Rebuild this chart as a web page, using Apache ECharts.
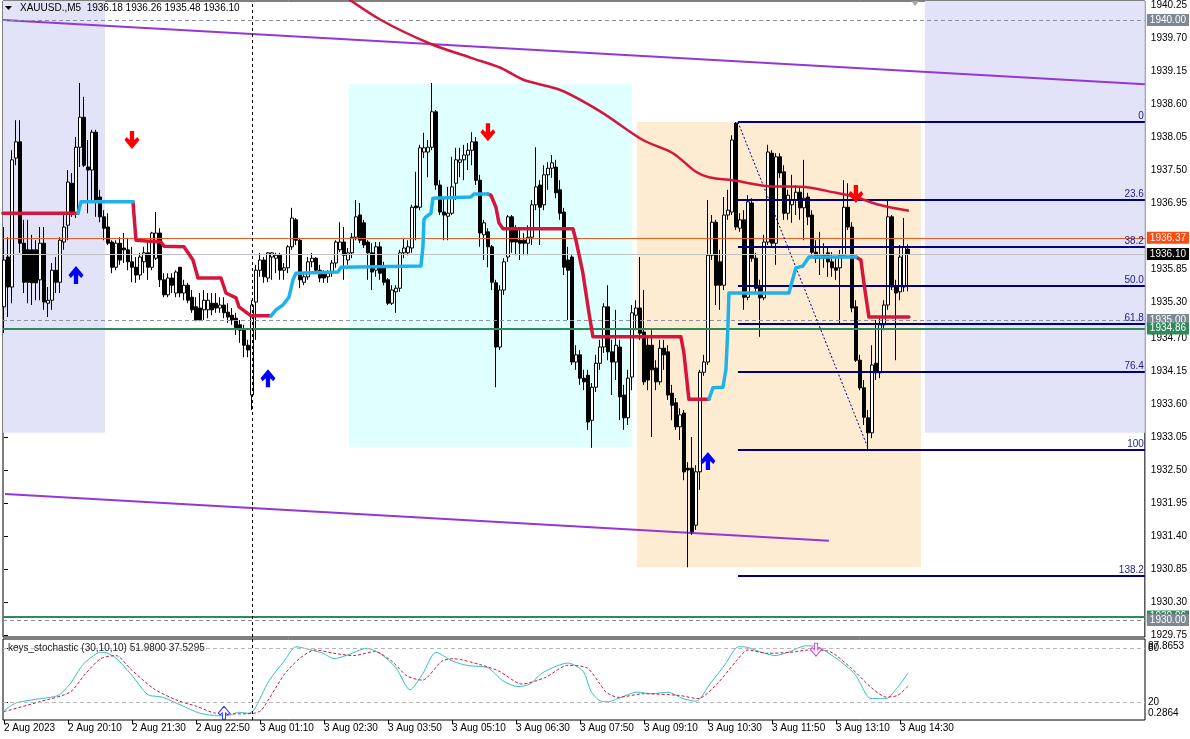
<!DOCTYPE html>
<html><head><meta charset="utf-8">
<script src="https://cdn.jsdelivr.net/npm/echarts@6/dist/echarts.min.js"></script>
<style>html,body{margin:0;padding:0;background:#fff}#c{width:1190px;height:739px}</style>
</head><body><div id="c"></div>
<script>
// ---------------- DATA ----------------
const symbolTitle = 'XAUUSD.,M5  1936.18 1936.26 1935.48 1936.10';
const stochTitle = 'keys_stochastic (30,10,10) 51.9800 37.5295';
const tickBars = [0,16,32,48,64,80,96,112,128,144,160,176,192,208,224];
const tickLabels = ['2 Aug 2023','2 Aug 20:10','2 Aug 21:30','2 Aug 22:50','3 Aug 01:10','3 Aug 02:30','3 Aug 03:50','3 Aug 05:10','3 Aug 06:30','3 Aug 07:50','3 Aug 09:10','3 Aug 10:30','3 Aug 11:50','3 Aug 13:10','3 Aug 14:30'];
const priceTicks = [1940.25,1939.70,1939.15,1938.60,1938.05,1937.50,1936.95,1935.85,1935.30,1934.70,1934.15,1933.60,1933.05,1932.50,1931.95,1931.40,1930.85,1930.30,1929.75];

const opens = [1935.22,1936.05,1935.55,1937.70,1937.97,1936.28,1936.17,1936.17,1936.17,1935.67,1936.28,1935.28,1935.33,1935.83,1935.63,1936.30,1936.58,1937.28,1936.78,1937.88,
1938.38,1937.55,1937.50,1938.13,1937.05,1936.72,1936.55,1936.30,1935.88,1936.28,1936.20,1936.17,1935.97,1935.88,1935.75,1935.97,1936.12,1935.88,1936.03,1936.45,
1935.67,1935.42,1935.70,1935.45,1935.88,1935.45,1935.58,1935.38,1935.22,1935.20,1935.17,1935.17,1935.28,1935.28,1935.20,1935.25,1935.13,1935.08,1935.03,1934.92,
1934.83,1934.58,1933.75,1935.30,1935.83,1936.00,1935.70,1936.05,1936.03,1936.08,1935.83,1935.87,1936.22,1936.67,1936.33,1935.63,1935.72,1935.97,1936.03,1935.83,
1935.78,1935.72,1935.78,1935.95,1936.17,1936.30,1936.00,1936.12,1936.38,1936.75,1936.62,1936.30,1936.12,1935.83,1936.22,1935.88,1935.67,1935.28,1935.47,1935.53,
1936.12,1936.12,1936.20,1936.90,1936.88,1937.80,1937.80,1937.88,1938.47,1937.25,1936.80,1936.73,1936.78,1937.28,1937.63,1937.67,1937.75,1937.83,1937.97,1937.33,
1936.42,1936.47,1936.22,1935.62,1934.55,1935.50,1936.05,1936.72,1936.50,1936.33,1936.33,1936.28,1936.38,1936.92,1937.25,1936.92,1937.42,1937.53,1937.55,1937.17,
1936.80,1936.00,1936.05,1934.30,1934.42,1934.03,1934.08,1933.33,1933.88,1934.28,1934.55,1935.22,1934.47,1934.30,1934.55,1933.75,1933.37,1934.05,1935.08,1935.20,
1934.80,1934.58,1934.58,1934.20,1933.97,1934.53,1934.47,1933.78,1933.62,1933.22,1933.45,1932.53,1932.53,1931.58,1932.47,1934.13,1934.30,1936.08,1936.63,1935.97,
1935.58,1936.75,1936.80,1938.28,1936.53,1936.67,1935.38,1936.95,1936.03,1935.55,1935.37,1936.30,1937.78,1936.28,1937.72,1937.47,1936.78,1936.92,1937.00,1937.13,
1936.87,1937.05,1936.75,1936.13,1936.03,1936.08,1936.12,1935.97,1935.87,1935.87,1936.08,1936.88,1936.55,1935.22,1934.33,1933.87,1933.37,1933.12,1934.28,1934.12,
1934.92,1935.25,1936.72,1935.55,1935.47,1935.55,1936.18];
const highs = [1936.55,1936.38,1937.83,1938.33,1938.33,1936.67,1936.67,1936.42,1936.33,1936.55,1936.55,1935.55,1935.95,1936.05,1936.38,1936.78,1937.50,1937.45,1938.05,1938.95,
1938.72,1938.00,1938.17,1938.17,1937.17,1936.83,1936.78,1936.33,1936.33,1936.38,1936.45,1936.37,1936.22,1936.05,1936.12,1936.22,1936.33,1936.47,1936.80,1936.53,
1935.78,1935.78,1935.78,1935.83,1935.88,1935.67,1935.62,1935.50,1935.38,1935.45,1935.50,1935.45,1935.45,1935.45,1935.38,1935.38,1935.28,1935.20,1935.12,1935.00,
1934.92,1934.67,1935.33,1935.92,1936.12,1936.05,1936.13,1936.13,1936.12,1936.12,1935.95,1936.25,1936.87,1936.70,1936.37,1935.78,1936.05,1936.12,1936.05,1935.92,
1935.83,1935.83,1936.00,1936.33,1936.63,1936.55,1936.20,1936.45,1937.00,1936.95,1936.67,1936.33,1936.28,1936.30,1936.30,1935.97,1935.70,1935.58,1935.58,1936.17,
1936.37,1936.33,1936.92,1937.47,1937.92,1938.12,1938.00,1938.95,1938.50,1937.33,1937.05,1937.22,1937.72,1937.87,1937.87,1937.92,1937.95,1938.13,1938.05,1937.42,
1936.67,1936.53,1936.25,1935.67,1935.58,1936.03,1936.75,1936.75,1936.58,1936.53,1936.45,1936.58,1937.00,1937.88,1937.33,1937.58,1937.63,1937.75,1937.67,1937.33,
1936.87,1936.22,1936.08,1934.58,1934.50,1934.17,1934.17,1933.95,1934.42,1934.67,1935.28,1935.58,1934.67,1935.17,1934.67,1933.92,1934.17,1935.25,1935.33,1936.05,
1935.50,1934.75,1934.83,1934.33,1934.67,1934.67,1934.58,1933.92,1933.70,1933.53,1933.50,1932.63,1933.05,1932.58,1934.17,1934.42,1937.00,1936.75,1936.67,1936.17,
1937.05,1937.17,1938.08,1938.30,1936.78,1936.83,1937.08,1937.03,1936.12,1935.67,1936.42,1937.92,1937.83,1937.78,1937.78,1937.58,1937.17,1937.42,1937.25,1937.22,
1937.67,1937.12,1936.83,1936.33,1936.47,1936.28,1936.20,1936.13,1936.03,1936.17,1937.33,1937.28,1936.63,1935.33,1934.42,1934.00,1933.50,1934.58,1935.00,1935.03,
1935.33,1937.00,1936.75,1935.67,1936.25,1936.70,1936.26];
const lows = [1934.78,1935.05,1935.28,1937.58,1936.12,1935.45,1935.28,1935.25,1935.33,1935.33,1935.17,1935.05,1935.17,1935.45,1935.45,1936.17,1936.33,1936.72,1936.70,1937.55,
1937.55,1936.78,1937.00,1936.72,1936.63,1936.33,1936.25,1935.78,1935.83,1935.92,1935.95,1935.83,1935.63,1935.62,1935.67,1935.78,1935.67,1935.83,1936.00,1935.55,
1935.38,1935.38,1935.45,1935.38,1935.38,1935.33,1935.28,1935.12,1934.98,1934.98,1935.00,1935.03,1935.08,1935.12,1935.12,1935.03,1934.95,1934.92,1934.75,1934.62,
1934.38,1934.38,1933.50,1934.67,1935.72,1935.62,1935.63,1935.67,1935.78,1935.67,1935.67,1935.78,1936.17,1936.25,1935.53,1935.58,1935.67,1935.88,1935.78,1935.63,
1935.62,1935.62,1935.72,1935.87,1936.13,1935.67,1935.92,1936.03,1936.33,1936.28,1936.20,1935.67,1935.50,1935.72,1935.67,1935.58,1935.25,1935.25,1935.12,1935.47,
1936.03,1936.08,1936.12,1936.33,1936.83,1937.70,1937.38,1937.83,1937.17,1936.75,1936.33,1936.33,1936.75,1937.00,1937.38,1937.33,1937.50,1937.58,1937.25,1936.22,
1936.00,1935.88,1935.50,1933.88,1934.50,1935.42,1935.97,1936.12,1936.08,1936.00,1936.08,1936.08,1936.25,1936.83,1936.25,1936.83,1937.17,1937.37,1937.03,1936.67,
1935.75,1935.00,1934.25,1934.17,1933.92,1933.83,1933.17,1932.87,1933.80,1934.17,1934.45,1934.33,1933.75,1934.00,1933.33,1933.17,1933.25,1933.83,1934.83,1934.67,
1933.92,1933.83,1933.05,1933.83,1933.92,1934.17,1933.67,1933.33,1933.17,1933.00,1932.33,1930.88,1931.42,1931.50,1932.17,1934.07,1934.25,1936.00,1935.25,1935.17,
1935.50,1936.67,1936.75,1936.50,1936.47,1935.17,1935.33,1935.97,1935.47,1934.72,1935.33,1936.25,1936.20,1935.92,1937.37,1936.67,1936.67,1936.62,1936.75,1936.67,
1936.33,1936.58,1936.05,1935.95,1935.75,1935.87,1935.72,1935.72,1935.67,1934.92,1936.03,1936.50,1935.13,1934.30,1933.83,1933.25,1932.83,1933.03,1934.00,1934.03,
1934.83,1935.17,1935.50,1934.33,1935.33,1935.47,1935.48];
const closes = [1936.00,1935.55,1937.67,1937.97,1936.28,1935.63,1935.63,1935.62,1935.62,1936.28,1935.30,1935.33,1935.83,1935.63,1936.33,1936.55,1937.30,1936.78,1937.88,1938.38,
1937.58,1937.50,1938.13,1937.00,1936.72,1936.53,1936.28,1935.88,1936.28,1936.00,1936.17,1935.97,1935.88,1935.75,1936.05,1936.12,1935.88,1936.45,1936.45,1935.67,
1935.42,1935.70,1935.58,1935.80,1935.45,1935.58,1935.33,1935.17,1935.00,1935.00,1935.33,1935.33,1935.17,1935.20,1935.25,1935.12,1935.05,1935.00,1934.87,1934.83,
1934.58,1934.50,1935.25,1935.83,1936.00,1935.72,1936.12,1936.12,1936.08,1935.83,1935.87,1936.22,1936.70,1936.33,1935.67,1935.72,1935.97,1936.03,1935.83,1935.70,
1935.70,1935.78,1935.95,1936.30,1936.30,1936.08,1936.12,1936.38,1936.72,1936.33,1936.25,1936.12,1935.80,1936.22,1935.78,1935.63,1935.28,1935.50,1935.53,1936.12,
1936.20,1936.22,1936.88,1936.87,1937.87,1937.87,1937.88,1938.47,1937.25,1936.80,1936.75,1936.78,1937.22,1937.67,1937.67,1937.75,1937.83,1937.97,1937.33,1936.45,
1936.62,1936.22,1935.63,1934.55,1935.50,1935.97,1936.72,1936.30,1936.30,1936.28,1936.28,1936.38,1936.92,1937.22,1936.88,1937.42,1937.53,1937.62,1937.12,1936.78,
1935.88,1935.83,1934.30,1934.42,1934.03,1933.97,1933.30,1933.88,1934.28,1934.55,1935.22,1934.47,1934.30,1934.58,1933.72,1933.37,1934.03,1935.12,1935.20,1934.78,
1933.97,1934.00,1934.17,1933.97,1934.53,1934.42,1933.75,1933.58,1933.22,1933.42,1932.47,1932.50,1931.47,1932.47,1934.13,1934.30,1936.08,1936.63,1935.58,1935.58,
1936.75,1936.83,1938.00,1936.55,1936.67,1935.38,1936.97,1936.03,1935.53,1935.37,1936.30,1937.80,1936.28,1937.72,1937.45,1936.78,1937.08,1937.00,1937.13,1936.87,
1937.03,1936.72,1936.13,1936.03,1936.08,1936.03,1935.97,1935.87,1935.83,1936.08,1936.88,1936.55,1935.20,1934.33,1933.87,1933.38,1933.12,1934.25,1934.12,1934.92,
1935.25,1936.72,1935.55,1935.45,1936.05,1936.22,1936.10];

// moving average (knots: [bar, price])
const maLine = [[84,1940.45],[94.25,1940.00],[106.75,1939.60],[116.75,1939.37],[124.25,1939.20],[130,1939.00],[139.25,1938.83],[149.25,1938.47],[159.75,1938.00],[167.25,1937.78],[173,1937.47],[176.25,1937.38],[183,1937.32],[191.25,1937.23],[199.75,1937.22],[208,1937.12],[213,1937.05],[218.75,1936.92],[226.25,1936.82]];
// step trailing line segments
const stepRed = [
 [[-0.25,1936.78],[18.5,1936.78]],
 [[32.25,1936.97],[33,1936.33],[39.25,1936.30],[40,1936.23],[45,1936.22],[47.25,1936.00],[48.5,1935.70],[54.25,1935.70],[55.5,1935.45],[58,1935.37],[58.75,1935.22],[61.75,1935.07],[66.75,1935.07]],
 [[121,1937.10],[121.75,1937.08],[123,1936.88],[123.75,1936.62],[124.75,1936.52],[142.25,1936.52],[143,1936.33],[144.75,1935.78],[146.25,1935.12],[147.25,1934.72],[169.25,1934.72],[170,1934.45],[171.25,1933.68],[176.25,1933.68]],
 [[213,1936.05],[214.25,1936.00],[215,1935.62],[216.25,1935.05],[226.25,1935.05]]
];
const stepCyan = [
 [[18.5,1936.78],[19.25,1936.97],[32.25,1936.97]],
 [[66.75,1935.07],[68,1935.17],[69.75,1935.25],[71.25,1935.38],[72.25,1935.67],[73,1935.78],[83.5,1935.80],[84.25,1935.88],[104.25,1935.90],[104.75,1936.22],[105,1936.67],[105.5,1936.72],[106.75,1936.78],[107.25,1937.03],[116.75,1937.05],[117.5,1937.10],[121,1937.10]],
 [[176.25,1933.68],[177.25,1933.87],[179.75,1933.88],[180.5,1934.17],[181,1934.88],[181.25,1935.45],[196.25,1935.45],[198,1935.87],[199.75,1935.90],[201.25,1936.05],[213,1936.05]]
];
// trend lines
const upperTrend = [[-0.25,1940.00],[285.25,1938.93]];
const lowerTrend = [[0.25,1932.10],[206.25,1931.32]];
const fibDiagonal = [[183.5,1938.30],[216.25,1932.83]];
const fibStartBar = 183.5;
const fibLevels = [1938.30,1937.00,1936.22,1935.57,1934.93,1934.13,1932.83,1930.73];
const fibNames = ['0','23.6','38.2','50.0','61.8','76.4','100','138.2'];
// zones: [barFrom, barTo, priceLow, priceHigh]
const zones = [[-0.25,25.25,1933.12,1940.317],[86.25,157,1932.88,1938.93],[158.25,229.25,1930.88,1938.30],[230.25,285.25,1933.12,1940.317]];
// horizontal price levels
const priceLevels = [1940.00,1936.37,1936.10,1935.00,1934.86,1930.06,1930.00];
// arrows
const upArrows = [[18,1935.75],[66,1934.03],[176,1932.65]];
const downArrows = [[32,1938.00],[121,1938.13],[213,1937.10]];
const separatorBar = 62;
// stochastic
const stochMain = [[0,10.4],[3,19.0],[8,23.0],[13.5,27.3],[16.5,40],[19.75,61.6],[23.25,74.1],[25,75.2],[28,68.7],[31.75,50.8],[36,28.1],[39.5,25.5],[44.25,16.5],[49,7.5],[53.75,4.6],[56.75,5.7],[58.6,8.6],[61,7.5],[62.5,11.1],[66.25,43.5],[70,65.2],[73,81.4],[76.75,77.8],[79.75,74.1],[82.5,68.1],[85.5,71.6],[90.75,79.5],[94,74.1],[98,57.9],[101.5,33.5],[104.6,50.8],[108,75.2],[112.25,65.2],[116,60.5],[121,57.9],[124.75,43.5],[128.5,37.1],[131.5,40],[134.25,51.4],[138,59.7],[141,63.3],[144.75,54.3],[146.75,32],[148.75,21.9],[151,20.1],[153.5,23.8],[158.25,30.9],[162,29.2],[166,30.9],[169.75,23.8],[173,20.8],[176.5,40],[180.25,61.6],[183.6,81.4],[185,81.4],[188.9,76.0],[192.75,71.6],[196.5,76.0],[200.4,82.5],[203.25,81.4],[208,68.7],[212.75,50.8],[216.75,23.8],[220.5,23.8],[223.4,36.3],[226,51.98]];
const stochSignal = [[0,9.3],[8.75,20.1],[16.5,30.9],[20.25,50.8],[24.15,68.1],[28,71.6],[31.75,56.2],[37.5,34.6],[43.25,21.9],[48,15.4],[52.9,7.5],[57.75,6.8],[62.5,7.5],[64.4,11.1],[70.1,50.8],[74,68.7],[77.75,77.8],[82.5,74.1],[87.4,71.6],[92.65,76.0],[97,65.2],[100.75,48.9],[104.6,44.3],[109.4,65.2],[112.25,68.1],[119,61.6],[123.75,54.3],[129.5,40],[135.25,47.1],[141,60.8],[145.75,57.9],[149,40],[150.5,31],[153.5,25.2],[160,29.2],[168.75,27.3],[173.5,23.8],[178.25,40],[183,65.2],[186,77.8],[190.75,74.1],[196.5,75.2],[201.25,77.8],[206,76.7],[211.75,57.9],[216.75,36.3],[220.5,25.5],[223.4,27.3],[226,37.53]];
const stochLevels = [80,20];
const stochRange = [0.2864,87.8653];
const stochUp = [[55,7.9]];
const stochDown = [[203,78.1]];

// ---------------- CHART ----------------
const XMIN=-0.25, XMAX=285.25, PMIN=1929.717, PMAX=1940.317;
const SMIN=0, SMAX=90;
const FONT='"Liberation Sans", Arial, sans-serif';
const chart = echarts.init(document.getElementById('c'));
const candleData = opens.map((o,i)=>[i,o,closes[i],lows[i],highs[i]]);
const zoneColors = ['#E2E2F8','#E0FFFF','#FDEBD2','#E2E2F8'];
const levelStyles = [
 {color:'#8a949e',type:[4,3],width:1,tag:'#7d8894',txt:'#fff'},
 {color:'#EE5A24',type:'solid',width:1,tag:'#FF4A10',txt:'#fff'},
 {color:'#C0C0C0',type:'solid',width:1,tag:'#000',txt:'#fff'},
 {color:'#8a949e',type:[4,3],width:1,tag:'#7d8894',txt:'#fff'},
 {color:'#2E8B57',type:'solid',width:2,tag:'#2E8B57',txt:'#fff'},
 {color:'#2E8B57',type:'solid',width:2,tag:'#2E8B57',txt:'#fff'},
 {color:'#8a949e',type:[4,3],width:1,tag:'#7d8894',txt:'#fff'}
];
const UP='path://M7,0 L14,9 L12,12 L9,9 L9,18 L5,18 L5,9 L2,12 L0,9 Z';
const DOWN='path://M5,0 L9,0 L9,9 L12,6 L14,9 L7,18 L0,9 L2,6 L5,9 Z';

const series = [];
series.push({type:'line',xAxisIndex:0,yAxisIndex:0,data:[],z:0,silent:true,
  markArea:{silent:true,data:zones.map((z,k)=>[{coord:[z[0],z[3]],itemStyle:{color:zoneColors[k],opacity:1}},{coord:[z[1],z[2]]}])}});
series.push({type:'line',xAxisIndex:0,yAxisIndex:0,data:[],z:3,silent:true,
  markLine:{silent:true,symbol:['none','none'],
    data:priceLevels.map((v,k)=>({yAxis:v,lineStyle:{color:levelStyles[k].color,type:levelStyles[k].type,width:levelStyles[k].width},
      label:{show:true,position:'end',distance:2,formatter:v.toFixed(2),backgroundColor:levelStyles[k].tag,color:levelStyles[k].txt,
        fontSize:10,fontFamily:FONT,padding:[1,3,0,3],lineHeight:11}}))}});
series.push({type:'line',xAxisIndex:0,yAxisIndex:0,data:[],z:3,silent:true,
  markLine:{silent:true,symbol:['none','none'],label:{show:false},lineStyle:{color:'#000',type:[3,3],width:1},data:[{xAxis:separatorBar}]}});
series.push({type:'line',xAxisIndex:1,yAxisIndex:1,data:[],z:3,silent:true,
  markLine:{silent:true,symbol:['none','none'],label:{show:false},lineStyle:{color:'#000',type:[3,3],width:1},data:[{xAxis:separatorBar}]}});
series.push({type:'line',xAxisIndex:0,yAxisIndex:0,data:upperTrend,symbol:'none',lineStyle:{color:'#9437D6',width:2},z:2});
series.push({type:'line',xAxisIndex:0,yAxisIndex:0,data:lowerTrend,symbol:'none',lineStyle:{color:'#9437D6',width:2},z:2});
series.push({type:'candlestick',xAxisIndex:0,yAxisIndex:0,data:candleData,encode:{x:0,y:[1,2,3,4]},barWidth:3,z:4,
  itemStyle:{color:'#fff',color0:'#000',borderColor:'#000',borderColor0:'#000',borderWidth:1}});
series.push({type:'line',xAxisIndex:0,yAxisIndex:0,data:[],z:5,silent:true,
  markLine:{silent:true,symbol:['none','none'],
    data:fibLevels.map((v,k)=>[{coord:[fibStartBar,v],lineStyle:{color:'#000080',width:2,type:'solid'},
      label:{show:true,position:'insideEndTop',distance:[1,1],formatter:fibNames[k],color:'#1C1C8C',fontSize:10,fontFamily:FONT}},{coord:[XMAX,v]}])}});
series.push({type:'line',xAxisIndex:0,yAxisIndex:0,data:fibDiagonal,symbol:'none',lineStyle:{color:'#000080',width:1,type:[2,2]},z:5});
series.push({type:'line',xAxisIndex:0,yAxisIndex:0,data:maLine,symbol:'none',smooth:0.3,lineStyle:{color:'#D4163C',width:2.5},z:6});
stepRed.forEach(s=>series.push({type:'line',xAxisIndex:0,yAxisIndex:0,data:s,symbol:'none',lineStyle:{color:'#D4163C',width:3.5,cap:'round',join:'round'},z:6}));
stepCyan.forEach(s=>series.push({type:'line',xAxisIndex:0,yAxisIndex:0,data:s,symbol:'none',lineStyle:{color:'#1FB2EA',width:3.5,cap:'round',join:'round'},z:6}));
series.push({type:'scatter',xAxisIndex:0,yAxisIndex:0,data:upArrows,symbol:UP,symbolSize:[15,18],itemStyle:{color:'#0000FF',opacity:1},z:7});
series.push({type:'scatter',xAxisIndex:0,yAxisIndex:0,data:downArrows,symbol:DOWN,symbolSize:[15,18],itemStyle:{color:'#FF0000',opacity:1},z:7});
// stochastic
series.push({type:'line',xAxisIndex:1,yAxisIndex:1,data:[],z:2,silent:true,
  markLine:{silent:true,symbol:['none','none'],label:{show:false},lineStyle:{color:'#b8b8b8',type:[4,3],width:1},data:stochLevels.map(v=>({yAxis:v}))}});
series.push({type:'line',xAxisIndex:1,yAxisIndex:1,data:stochMain,symbol:'none',smooth:0.25,lineStyle:{color:'#33C3C3',width:1},z:4});
series.push({type:'line',xAxisIndex:1,yAxisIndex:1,data:stochSignal,symbol:'none',smooth:0.25,lineStyle:{color:'#D4163C',width:1,type:[3,2]},z:4});
series.push({type:'scatter',xAxisIndex:1,yAxisIndex:1,data:stochUp,symbol:UP,symbolSize:[11,13],itemStyle:{color:'#fff',borderColor:'#3030FF',borderWidth:1,opacity:1},z:6});
series.push({type:'scatter',xAxisIndex:1,yAxisIndex:1,data:stochDown,symbol:DOWN,symbolSize:[11,13],itemStyle:{color:'#fff',borderColor:'#E040E0',borderWidth:1,opacity:1},z:6});

const option = {
  animation:false,
  backgroundColor:'#fff',
  grid:[
    {left:3,top:1,width:1142,height:636,show:true,borderColor:'#000',borderWidth:1,backgroundColor:'transparent'},
    {left:3,top:639,width:1142,height:81,show:true,borderColor:'#000',borderWidth:1,backgroundColor:'transparent'}
  ],
  xAxis:[
    {type:'value',gridIndex:0,min:XMIN,max:XMAX,show:false},
    {type:'value',gridIndex:1,min:XMIN,max:XMAX,position:'bottom',
      axisLine:{show:false},splitLine:{show:false},
      axisTick:{show:true,length:4,customValues:tickBars,lineStyle:{color:'#000'}},
      axisLabel:{customValues:tickBars,formatter:v=>tickLabels[tickBars.indexOf(Math.round(v))]||'',align:'left',margin:3,color:'#000',fontSize:10,fontFamily:FONT}}
  ],
  yAxis:[
    {type:'value',gridIndex:0,position:'right',min:PMIN,max:PMAX,
      axisLine:{show:false},splitLine:{show:false},
      axisTick:{show:true,length:4,customValues:priceTicks,lineStyle:{color:'#000'}},
      axisLabel:{customValues:priceTicks,formatter:v=>v.toFixed(2),margin:6,color:'#000',fontSize:10,fontFamily:FONT}},
    {type:'value',gridIndex:1,position:'right',min:SMIN,max:SMAX,
      axisLine:{show:false},splitLine:{show:false},
      axisTick:{show:true,length:4,customValues:stochLevels,lineStyle:{color:'#000'}},
      axisLabel:{customValues:stochLevels,margin:3,color:'#000',fontSize:10,fontFamily:FONT,formatter:v=>String(Math.round(v))}}
  ],
  graphic:[
    {type:'polygon',shape:{points:[[5,6],[12,6],[8.5,10]]},style:{fill:'#000'},z:20},
    {type:'text',left:20,top:3,style:{text:symbolTitle,fontSize:10,fontFamily:FONT,fill:'#000'},z:20},
    {type:'text',left:8,top:643,style:{text:stochTitle,fontSize:10,fontFamily:FONT,fill:'#222'},z:20},
    {type:'text',left:1148,top:641,style:{text:stochRange[1].toFixed(4),fontSize:10,fontFamily:FONT,fill:'#000'},z:20},
    {type:'text',left:1148,top:708,style:{text:stochRange[0].toFixed(4),fontSize:10,fontFamily:FONT,fill:'#000'},z:20},
    {type:'polygon',shape:{points:[[911,1],[919,1],[915,6]]},style:{fill:'#a8a8a8'},z:20}
  ],
  series:series
};
chart.setOption(option);
</script>
</body></html>
